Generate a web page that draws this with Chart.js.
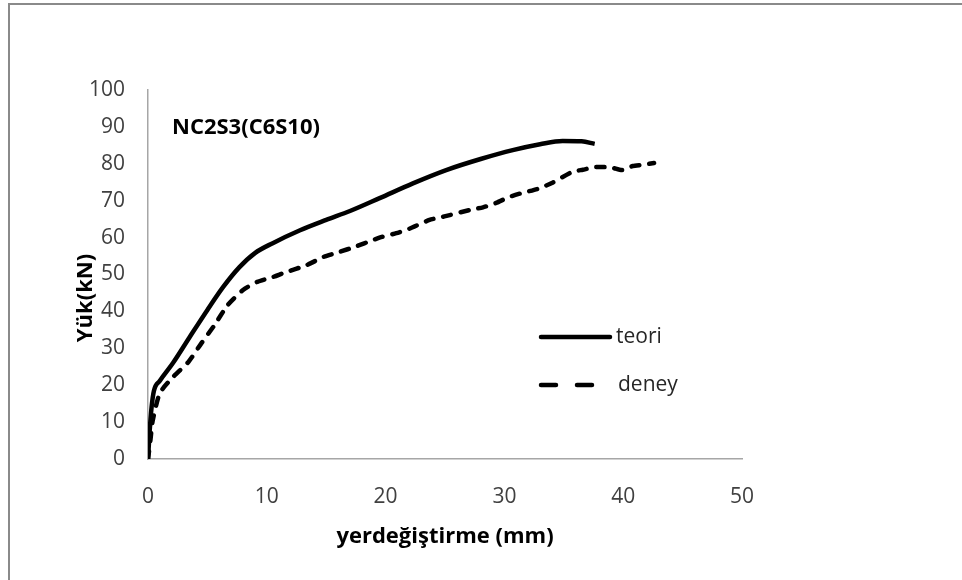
<!DOCTYPE html>
<html>
<head>
<meta charset="utf-8">
<script src="https://cdn.jsdelivr.net/npm/chart.js@4.4.1/dist/chart.umd.min.js"></script>
<style>
  body { margin: 0; background: #fff; }
  #wrap { position: relative; width: 962px; height: 580px; }
</style>
</head>
<body>
<div id="wrap"><canvas id="chart" width="962" height="580"></canvas></div>
<script>
// values
const teoriX = [0, 0.15, 0.3, 0.5, 1.0, 2.1, 3.5, 5.0, 6.3, 7.7, 9.0, 10.5, 12.8, 15.0, 17.0, 19.5, 22.3, 25.1, 28.0, 30.7, 33.0, 34.9, 36.5, 37.6];
const teoriY = [0, 8, 14, 18.5, 21.2, 26, 33, 40.4, 46.5, 52, 55.8, 58.5, 62, 64.8, 67.2, 70.7, 74.7, 78.3, 81.3, 83.7, 85.3, 86.2, 86.1, 85.4];

const deneyX = [0, 0.2, 0.4, 1.0, 2.1, 3.4, 4.5, 5.6, 6.7, 8.0, 9.2, 10.5, 11.5, 13.4, 14.8, 16.1, 17.5, 18.9, 19.7, 20.9, 22.0, 23.7, 24.5, 25.4, 27.1, 28.2, 29.3, 30.4, 31.5, 32.8, 34.0, 35.7, 36.6, 37.7, 39.0, 39.9, 40.8, 41.6, 42.6];
const deneyY = [0, 5, 10.5, 17.9, 22.2, 26.3, 31.4, 36.3, 41.7, 45.8, 48.0, 49.3, 50.5, 52.6, 54.8, 56.1, 57.6, 59.3, 60.2, 61.2, 62.4, 64.8, 65.4, 66.1, 67.5, 68.2, 69.4, 71.0, 72.1, 73.2, 74.8, 77.8, 78.4, 79.1, 79.0, 78.3, 79.4, 79.7, 80.2];

const xTicks = [0, 10, 20, 30, 40, 50];
const yTicks = [0, 10, 20, 30, 40, 50, 60, 70, 80, 90, 100];

function toPoints(xs, ys) {
    return xs.map((x, i) => ({ x: x, y: ys[i] }));
}

const frameAndLegend = {
    id: 'frameAndLegend',
    beforeDraw(chart) {
        const ctx = chart.ctx;
        ctx.save();
        ctx.fillStyle = '#fff';
        ctx.fillRect(0, 0, chart.width, chart.height);
        // outer frame (only top and left edges show)
        ctx.strokeStyle = '#8a8a8a';
        ctx.lineWidth = 2;
        ctx.beginPath();
        ctx.moveTo(9, chart.height);
        ctx.lineTo(9, 4);
        ctx.lineTo(chart.width, 4);
        ctx.stroke();
        ctx.restore();
    },
    afterDraw(chart) {
        const ctx = chart.ctx;
        const area = chart.chartArea;
        ctx.save();
        ctx.fillStyle = '#000';
        ctx.textBaseline = 'middle';

        // y axis title, sits a bit below the middle of the axis
        ctx.font = 'bold 22px "Open Sans"';
        ctx.textAlign = 'center';
        ctx.save();
        ctx.translate(86, 298);
        ctx.rotate(-Math.PI / 2);
        ctx.fillText('Yük(kN)', 0, 0);
        ctx.restore();

        // label inside the plot
        ctx.textAlign = 'left';
        ctx.font = 'bold 22px "Open Sans"';
        ctx.fillText('NC2S3(C6S10)', area.left + 24, area.top + 38);

        // legend
        const lx = 541, ly1 = 337, ly2 = 385;
        ctx.strokeStyle = '#000';
        ctx.lineWidth = 4.5;
        ctx.lineCap = 'round';
        ctx.beginPath();
        ctx.moveTo(lx, ly1);
        ctx.lineTo(lx + 69, ly1);
        ctx.stroke();
        ctx.setLineDash([15, 21]);
        ctx.beginPath();
        ctx.moveTo(lx, ly2);
        ctx.lineTo(lx + 54, ly2);
        ctx.stroke();
        ctx.setLineDash([]);
        ctx.fillStyle = '#262626';
        ctx.font = '21px "Open Sans"';
        ctx.fillText('teori', 616, ly1);
        ctx.fillText('deney', 618, ly2);
        ctx.restore();
    }
};

new Chart(document.getElementById('chart'), {
    type: 'line',
    data: {
        datasets: [{
            label: 'teori',
            data: toPoints(teoriX, teoriY),
            borderColor: '#000',
            borderWidth: 4.5,
            pointRadius: 0,
            tension: 0.4,
            cubicInterpolationMode: 'monotone',
            fill: false
        }, {
            label: 'deney',
            data: toPoints(deneyX, deneyY),
            borderColor: '#000',
            borderWidth: 4.5,
            borderDash: [8, 10],
            borderCapStyle: 'round',
            pointRadius: 0,
            tension: 0.2,
            fill: false
        }]
    },
    options: {
        responsive: false,
        animation: false,
        layout: { padding: { left: 0, top: 90, right: 220, bottom: 0 } },
        plugins: {
            legend: { display: false },
            tooltip: { enabled: false }
        },
        scales: {
            x: {
                type: 'linear',
                min: 0,
                max: 50,
                afterBuildTicks: s => { s.ticks = xTicks.map(v => ({ value: v })); },
                afterFit: s => { s.height = 121; },
                grid: { display: false },
                border: { display: true, color: '#a6a6a6', width: 1.5 },
                ticks: { color: '#404040', font: { family: 'Open Sans', size: 21 }, padding: 17, maxRotation: 0 },
                title: {
                    display: true,
                    text: 'yerdeğiştirme (mm)',
                    color: '#000',
                    font: { family: 'Open Sans', size: 22, weight: 'bold' },
                    padding: { top: 0, bottom: 30 }
                }
            },
            y: {
                type: 'linear',
                min: 0,
                max: 100,
                afterBuildTicks: s => { s.ticks = yTicks.map(v => ({ value: v })); },
                afterFit: s => { s.width = 148; },
                grid: { display: false },
                border: { display: true, color: '#a6a6a6', width: 1.5 },
                ticks: { color: '#404040', font: { family: 'Open Sans', size: 21 }, padding: 15 },
                title: { display: false }
            }
        }
    },
    plugins: [frameAndLegend]
});
</script>
</body>
</html>
